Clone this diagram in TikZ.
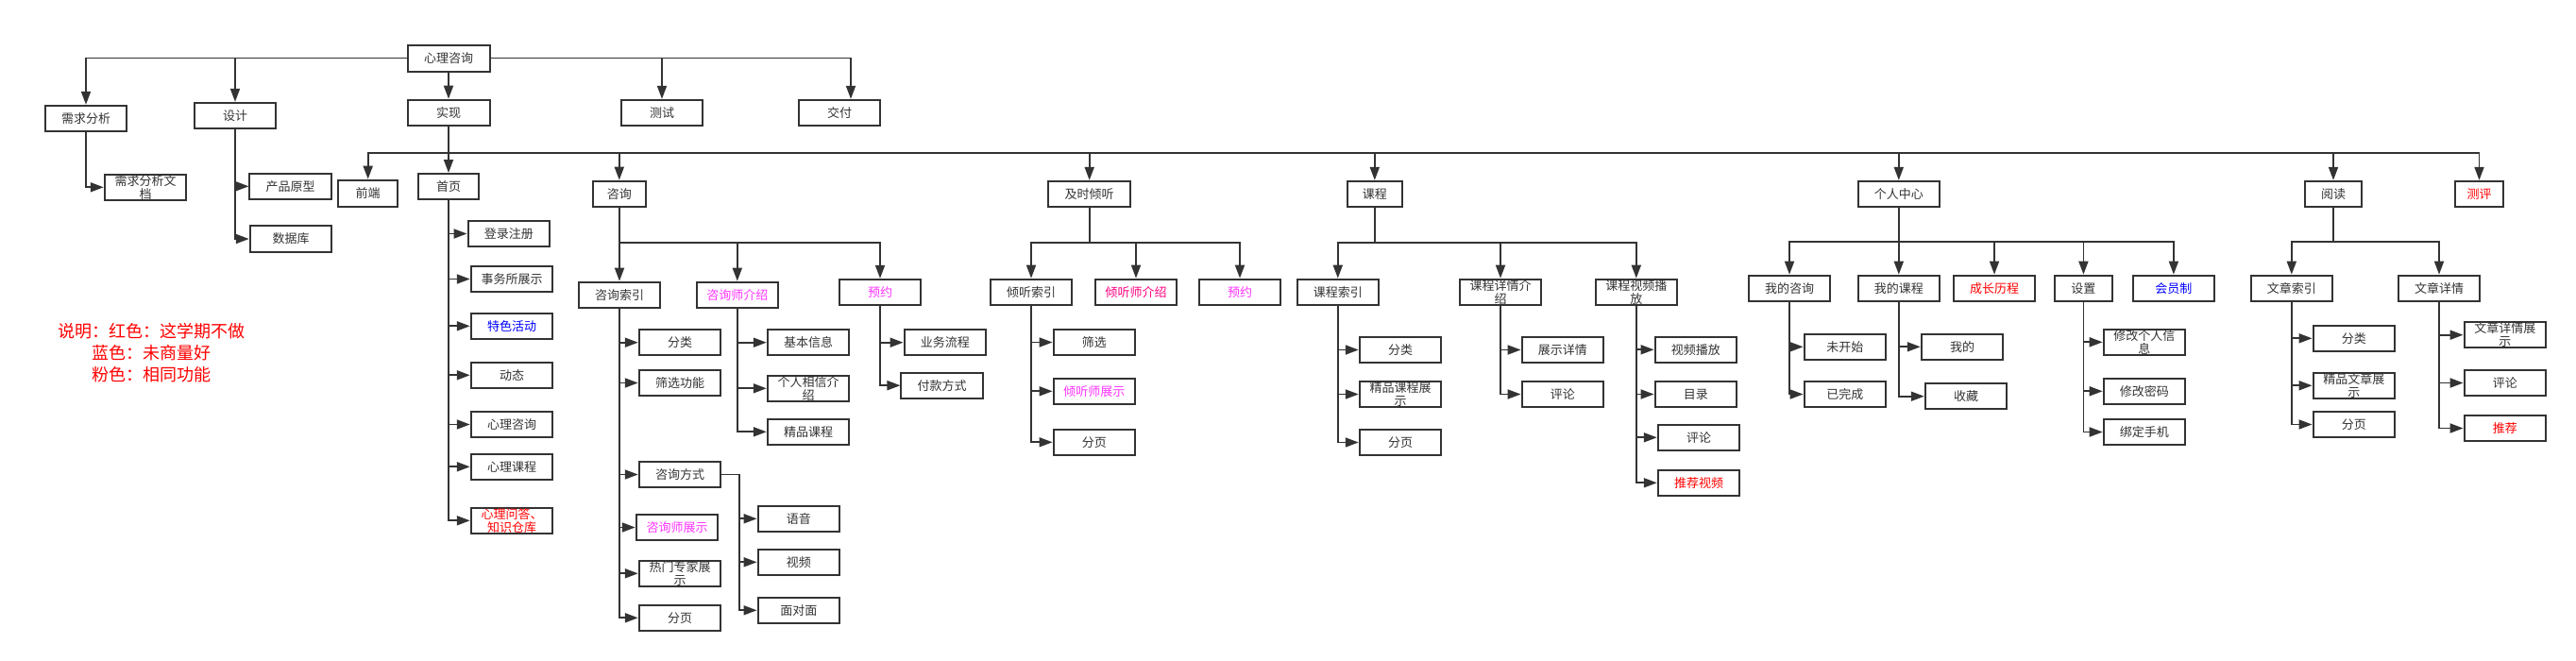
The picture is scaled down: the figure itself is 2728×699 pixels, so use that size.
\documentclass[tikz,border=0pt]{standalone}
\usepackage{fontspec}
\newfontfamily\cjk{Noto Sans CJK SC}
\usetikzlibrary{arrows.meta,calc}
\definecolor{lc}{HTML}{333333}
\definecolor{tc}{HTML}{333333}
\definecolor{rd}{HTML}{FF0000}
\definecolor{bl}{HTML}{0000FF}
\definecolor{pk}{HTML}{FF33FF}
\definecolor{pr}{HTML}{FF0080}
\begin{document}
\begin{tikzpicture}[x=1pt,y=-1pt,
  box/.style={draw=lc, line width=2pt, minimum width=86.5pt, minimum height=27.3pt, inner sep=0pt, text=tc, fill=white, font=\cjk\fontsize{13}{14}\selectfont},
  conn/.style={draw=lc, line width=1.8pt, -{Triangle[length=14pt,width=10pt]}},
  wire/.style={draw=lc, line width=1.8pt},
  redt/.style={text=rd}, bluet/.style={text=bl}, pinkt/.style={text=pk}, pinkr/.style={text=pr}]
\useasboundingbox (0,0) rectangle (2728,699);
\coordinate (bus1) at (0,162.3);
\coordinate (bus2) at (0,257.3);
\coordinate (bus3) at (0,255.7);

% level 0 / 1
\node[box, minimum width=87pt, minimum height=28pt] (root) at (475,61.5) {心理咨询};
\node[box] (xqfx) at (91,125.5) {需求分析};
\node[box] (sheji) at (249,122.5) {设计};
\node[box, minimum width=87pt, minimum height=27.6pt] (shixian) at (475,119.5) {实现};
\node[box] (ceshi) at (701,119.5) {测试};
\node[box] (jiaofu) at (889,119.5) {交付};
\node[box, align=center] (xqwd) at (154,198.3) {需求分析文\\档};
\node[box] (cpyx) at (307.7,197.3) {产品原型};
\node[box] (sjk) at (308,253) {数据库};

\draw[conn] (root.west) -| (xqfx.north);
\draw[conn] (root.west) -| (sheji.north);
\draw[conn] (root.south) -- (shixian.north);
\draw[conn] (root.east) -| (ceshi.north);
\draw[conn] (root.east) -| ([xshift=12pt]jiaofu.north);
\draw[conn] (xqfx.south) |- (xqwd.west);
\draw[conn] (sheji.south) |- (cpyx.west);
\draw[conn] (sheji.south) |- (sjk.west);

% level 2
\node[box, minimum width=62.7pt, minimum height=28.3pt] (qd) at (389.7,204.8) {前端};
\node[box, minimum width=64pt, minimum height=27pt] (sy) at (475,197.5) {首页};
\node[box, minimum width=56.3pt] (zx) at (655.8,205.3) {咨询};
\node[box] (jsqt) at (1153.7,205.5) {及时倾听};
\node[box, minimum width=58.3pt] (kc) at (1455.8,205.5) {课程};
\node[box] (grzx) at (2010.8,205.5) {个人中心};
\node[box, minimum width=59.7pt] (yd) at (2471,205.5) {阅读};
\node[box, minimum width=51.6pt, redt] (cp) at (2625.5,205.5) {测评};

\draw[conn] (shixian.south) -- (sy.north);
\foreach \n in {qd,zx,jsqt,kc,grzx,yd,cp}
  \draw[conn] (shixian.south) -- (shixian.south |- bus1) -| (\n.north);

% 首页
\node[box] (dlzc) at (538.8,247.5) {登录注册};
\node[box] (swszs) at (542,295.5) {事务所展示};
\node[box, bluet] (tshd) at (542,345.3) {特色活动};
\node[box] (dt) at (542,397.3) {动态};
\node[box] (xlzx) at (542,449.5) {心理咨询};
\node[box] (xlkc) at (542,494.3) {心理课程};
\node[box, redt, align=center] (xlwd) at (542,551.3) {心理问答、\\知识仓库};
\foreach \n in {dlzc,swszs,tshd,dt,xlzx,xlkc,xlwd}
  \draw[conn] (sy.south) |- (\n.west);

% 咨询
\node[box] (zxsy) at (656,312.3) {咨询索引};
\node[box, pinkt] (zxsjs) at (780.8,312.3) {咨询师介绍};
\node[box, pinkt] (yy1) at (932,309.5) {预约};
\foreach \n in {zxsy,zxsjs,yy1}
  \draw[conn] (zx.south) -- (zx.south |- bus2) -| (\n.north);
\node[box] (fl1) at (720,362.7) {分类};
\node[box] (sxgn) at (720,405.5) {筛选功能};
\node[box] (zxfs) at (720,502.5) {咨询方式};
\node[box, pinkt] (zxszs) at (717,558.5) {咨询师展示};
\node[box, align=center] (rmzj) at (720,607.3) {热门专家展\\示};
\node[box] (fy1) at (720,654.3) {分页};
\foreach \n in {fl1,sxgn,zxfs,zxszs,rmzj,fy1}
  \draw[conn] (zxsy.south) |- (\n.west);
\node[box] (yuyin) at (845.8,549.3) {语音};
\node[box] (shipin) at (845.8,595.3) {视频};
\node[box] (mdm) at (845.8,646.3) {面对面};
\coordinate (zxfsT) at (783,502.5);
\foreach \n in {yuyin,shipin,mdm}
  \draw[conn] (zxfs.east) -- (zxfsT) |- (\n.west);
\node[box] (jbxx) at (856,362.7) {基本信息};
\node[box, align=center] (grxx) at (856,411.3) {个人相信介\\绍};
\node[box] (jpkc) at (856,457.3) {精品课程};
\foreach \n in {jbxx,grxx,jpkc}
  \draw[conn] (zxsjs.south) |- (\n.west);
\node[box] (ywlc) at (1000.8,362.7) {业务流程};
\node[box] (fkfs) at (997.7,408.2) {付款方式};
\foreach \n in {ywlc,fkfs}
  \draw[conn] (yy1.south) |- (\n.west);

% 及时倾听
\node[box] (qtsy) at (1092,309.3) {倾听索引};
\node[box, pinkr] (qtsjs) at (1203,309.3) {倾听师介绍};
\node[box, pinkt] (yy2) at (1313,309.3) {预约};
\foreach \n in {qtsy,qtsjs,yy2}
  \draw[conn] (jsqt.south) -- (jsqt.south |- bus2) -| (\n.north);
\node[box] (sx) at (1158.8,362.5) {筛选};
\node[box, pinkt] (qtszs) at (1158.8,414.3) {倾听师展示};
\node[box] (fy2) at (1158.8,468.3) {分页};
\foreach \n in {sx,qtszs,fy2}
  \draw[conn] (qtsy.south) |- (\n.west);

% 课程
\node[box] (kcsy) at (1416.8,309.3) {课程索引};
\node[box, align=center] (kcxq) at (1589,309.3) {课程详情介\\绍};
\node[box, align=center] (kcsp) at (1732.8,309.3) {课程视频播\\放};
\foreach \n in {kcsy,kcxq,kcsp}
  \draw[conn] (kc.south) -- (kc.south |- bus2) -| (\n.north);
\node[box] (fl2) at (1483,370.5) {分类};
\node[box, align=center] (jpkczs) at (1483,417.5) {精品课程展\\示};
\node[box] (fy3) at (1483,468.5) {分页};
\foreach \n in {fl2,jpkczs,fy3}
  \draw[conn] (kcsy.south) |- (\n.west);
\node[box] (zsxq) at (1654.8,370.5) {展示详情};
\node[box] (pl1) at (1654.8,417.5) {评论};
\foreach \n in {zsxq,pl1}
  \draw[conn] (kcxq.south) |- (\n.west);
\node[box] (spbf) at (1795.8,370.3) {视频播放};
\node[box] (ml) at (1795.8,417.5) {目录};
\node[box] (pl2) at (1799,463.3) {评论};
\node[box, redt] (tjsp) at (1799,511.3) {推荐视频};
\foreach \n in {spbf,ml,pl2,tjsp}
  \draw[conn] (kcsp.south) |- (\n.west);

% 个人中心
\node[box] (wdzx) at (1895,305.3) {我的咨询};
\node[box] (wdkc) at (2010.8,305.3) {我的课程};
\node[box, redt] (czlc) at (2112,305.3) {成长历程};
\node[box, minimum width=61pt] (sz) at (2206.4,305.3) {设置};
\node[box, bluet] (hyz) at (2301.9,305.3) {会员制};
\foreach \n in {wdzx,wdkc,czlc,sz,hyz}
  \draw[conn] (grzx.south) -- (grzx.south |- bus3) -| (\n.north);
\node[box] (wks) at (1953.8,367.3) {未开始};
\node[box] (ywc) at (1953.8,417.5) {已完成};
\foreach \n in {wks,ywc}
  \draw[conn] (wdzx.south) |- (\n.west);
\node[box] (wd) at (2078,367.3) {我的};
\node[box] (sc) at (2082,419.7) {收藏};
\foreach \n in {wd,sc}
  \draw[conn] (wdkc.south) |- (\n.west);
\node[box, align=center] (xggrxx) at (2270.9,362.3) {修改个人信\\息};
\node[box] (xgmm) at (2270.9,414.3) {修改密码};
\node[box] (bdsj) at (2270.9,457.5) {绑定手机};
\foreach \n in {xggrxx,xgmm,bdsj}
  \draw[conn] (sz.south) |- (\n.west);

% 阅读
\node[box] (wzsy) at (2426.8,305.3) {文章索引};
\node[box] (wzxq) at (2583,305.3) {文章详情};
\foreach \n in {wzsy,wzxq}
  \draw[conn] (yd.south) -- (yd.south |- bus3) -| (\n.north);
\node[box] (fl3) at (2492.8,358.3) {分类};
\node[box, align=center] (jpwz) at (2492.8,408.3) {精品文章展\\示};
\node[box] (fy4) at (2492.8,449.5) {分页};
\foreach \n in {fl3,jpwz,fy4}
  \draw[conn] (wzsy.south) |- (\n.west);
\node[box, align=center] (wzxqzs) at (2652.8,354.7) {文章详情展\\示};
\node[box] (pl3) at (2652.8,405.5) {评论};
\node[box, redt] (tj) at (2652.8,453.5) {推荐};
\foreach \n in {wzxqzs,pl3,tj}
  \draw[conn] (wzxq.south) |- (\n.west);

% legend
\node[text=rd, align=center, inner sep=0pt, font=\cjk\fontsize{18}{22.7}\selectfont] (legend) at (160.5,373.4) {说明：红色：这学期不做\\蓝色：未商量好\\粉色：相同功能};
\end{tikzpicture}
\end{document}
